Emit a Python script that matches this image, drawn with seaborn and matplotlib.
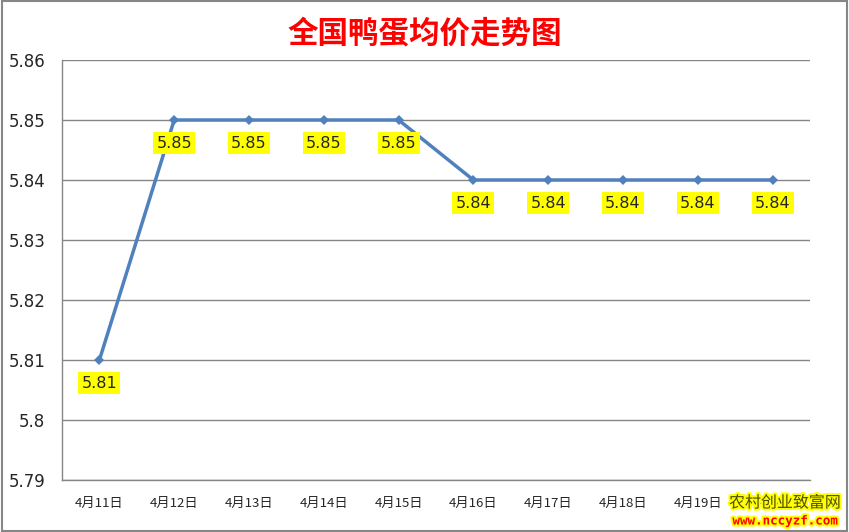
import matplotlib
matplotlib.use("Agg")
import matplotlib.pyplot as plt
import matplotlib.patheffects as pe
import seaborn as sns
import pandas as pd
import numpy as np

# 数据
dates = ["4月11日", "4月12日", "4月13日", "4月14日", "4月15日",
         "4月16日", "4月17日", "4月18日", "4月19日", "4月20日"]
prices = [5.81, 5.85, 5.85, 5.85, 5.85, 5.84, 5.84, 5.84, 5.84, 5.84]
y_ticks = [5.79, 5.80, 5.81, 5.82, 5.83, 5.84, 5.85, 5.86]
y_tick_labels = ["5.79", "5.8", "5.81", "5.82", "5.83", "5.84", "5.85", "5.86"]

sns.set_style("white")
plt.rcParams['font.family'] = ['Noto Sans CJK SC', 'DejaVu Sans']

df = pd.DataFrame({"date": dates, "price": prices})
df["pos"] = np.arange(len(df))

fig = plt.figure(figsize=(8.49, 5.32), dpi=100)
ax = fig.add_axes([62 / 849, 1 - 480 / 532, 748 / 849, 420 / 532])

sns.lineplot(data=df, x="pos", y="price", ax=ax, color="#4F81BD", linewidth=2.5,
             marker="D", markersize=5.5, markeredgewidth=0, zorder=3)

# 数据标签
for _, row in df.iterrows():
    ax.annotate(f"{row['price']:.2f}", (row["pos"], row["price"]),
                xytext=(0, -23), textcoords="offset pixels",
                ha="center", va="center", fontsize=11.5, color="#262626",
                family=['DejaVu Sans'],
                bbox=dict(boxstyle="square,pad=0.2", fc="#FFFF00", ec="none"),
                zorder=4)

ax.set_xlim(-0.5, len(dates) - 0.5)
ax.set_ylim(5.79, 5.86)
ax.set_yticks(y_ticks)
ax.set_yticklabels(y_tick_labels, fontsize=12, family=['DejaVu Sans'])
ax.set_xticks(df["pos"])
ax.set_xticklabels(dates, fontsize=9.5)
ax.set_xticks(np.arange(-0.5, len(dates), 1), minor=True)
ax.tick_params(axis="x", which="major", length=0, pad=12)
ax.tick_params(axis="x", which="minor", length=5, color="#868686", width=1)
ax.tick_params(axis="y", length=4, color="#868686", width=1, pad=8)
ax.set_xlabel("")
ax.set_ylabel("")
ax.grid(axis="y", color="#868686", linewidth=1)
for side in ["top", "right"]:
    ax.spines[side].set_visible(False)
for side in ["left", "bottom"]:
    ax.spines[side].set_color("#868686")
    ax.spines[side].set_linewidth(1)

fig.text(0.5, 1 - 33 / 532, "全国鸭蛋均价走势图", ha="center", va="center",
         fontsize=22, fontweight="bold", color="#FF0000")

# 水印
fig.text(785 / 849, 1 - 503 / 532, "农村创业致富网", ha="center", va="center",
         fontsize=11.5, color="#4D4D00",
         path_effects=[pe.withStroke(linewidth=3, foreground="#FFFF00")])
fig.text(785 / 849, 1 - 521 / 532, "www.nccyzf.com", ha="center", va="center",
         fontsize=9, color="#FF0000", family=['DejaVu Sans Mono'], fontweight="bold",
         path_effects=[pe.withStroke(linewidth=3, foreground="#FFFF00")])

# 外框
fig.patches.append(plt.Rectangle((0.002, 0.002), 0.996, 0.996, transform=fig.transFigure,
                                 fill=False, ec="#868686", lw=1.5))

fig.savefig("out.png", dpi=100)
